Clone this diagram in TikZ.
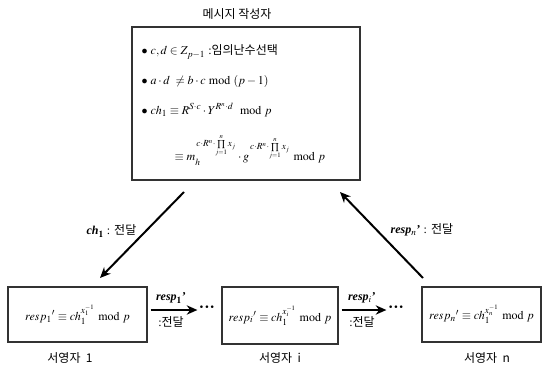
\documentclass[tikz,border=0pt]{standalone}
\usepackage{amsmath}
\usepackage{mathptmx}
\usepackage{fontspec}
\setmainfont{Liberation Serif}
\newfontfamily\kr{Noto Sans CJK KR}
\usetikzlibrary{arrows.meta}
\begin{document}
\begin{tikzpicture}[x=0.75pt,y=-0.75pt,>={Stealth[length=8pt,width=7pt]},
  box/.style={draw=black!80,line width=0.8pt,inner sep=0pt,font=\small},
  flow/.style={->,line width=1.5pt},
  who/.style={font=\kr\small},
  more/.style={font=\large\bfseries,inner sep=1pt}]
  \useasboundingbox (0,0) rectangle (542,374);
  \node[who] (title) at (237,14) {메시지 작성자};
  \node[box,minimum width=171pt,minimum height=114.75pt] (writer) at (246,103.5) {};
  \node[right,font=\small] (l1) at (137,52) {$\bullet\ c,d\in Z_{p-1}$ :{\kr 임의난수선택}};
  \node[right,font=\small] (l2) at (137,82) {$\bullet\ a\cdot d\ \neq b\cdot c \bmod (p-1)$};
  \node[right,font=\small] (l3) at (137,110) {$\bullet\ ch_1\equiv R^{S\cdot c}\cdot Y^{R^n\cdot d}\ \bmod p$};
  \node[right,font=\small] (l4) at (170,150) {$\equiv m_h^{\,c\cdot R^n\cdot\prod\limits_{j=1}^{n}x_j}\cdot g^{\,c\cdot R^n\cdot\prod\limits_{j=1}^{n}x_j}\bmod p$};
  \node[box,minimum width=104.25pt,minimum height=41.25pt] (sig1) at (77.5,314.5) {${resp_1}'\equiv ch_1^{x_1^{-1}}\bmod p$};
  \node[box,minimum width=87pt,minimum height=42.75pt] (sigi) at (280,315.5) {${resp_i}'\equiv ch_1^{x_i^{-1}}\bmod p$};
  \node[box,minimum width=89.25pt,minimum height=41.25pt] (sign) at (481.5,314.5) {${resp_n}'\equiv ch_1^{x_n^{-1}}\bmod p$};
  \node[who] (n1) at (70,358) {서영자\ \ 1};
  \node[who] (ni) at (280,358) {서영자\ \ i};
  \node[who] (nn) at (487,358) {서영자\ \ n};
  \node[more] (dots1) at (207,309) {···};
  \node[more] (dots2) at (396,309) {···};
  \coordinate (chA) at (184,192);
  \coordinate (chB) at (100,278);
  \coordinate (reA) at (423,278);
  \coordinate (reB) at (340,192);
  \draw[flow] (chA) -- (chB);
  \draw[flow] (reA) -- (reB);
  \node[left,font=\small] (chl) at (141,231) {\textbf{\textit{ch}}$_{\mathbf 1}$ : {\kr 전달}};
  \node[right,font=\small] (rel) at (386,230) {\textbf{\textit{resp}}$_{\boldsymbol{n}}$\textbf{'} : {\kr 전달}};
  \draw[flow] (sig1.east |- 0,310) ++(3,0) coordinate (a1) -- (dots1.west |- 0,310);
  \draw[flow] (sigi.east |- 0,310) ++(3,0) coordinate (a2) -- (dots2.west |- 0,310);
  \node[font=\small] (t1) at (171,298) {\textbf{\textit{resp}}$_{\mathbf 1}$\textbf{'}};
  \node[font=\small] (b1) at (171,322) {:{\kr 전달}};
  \node[font=\small] (t2) at (362,298) {\textbf{\textit{resp}}$_{\boldsymbol{i}}$\textbf{'}};
  \node[font=\small] (b2) at (362,322) {:{\kr 전달}};
\end{tikzpicture}
\end{document}
